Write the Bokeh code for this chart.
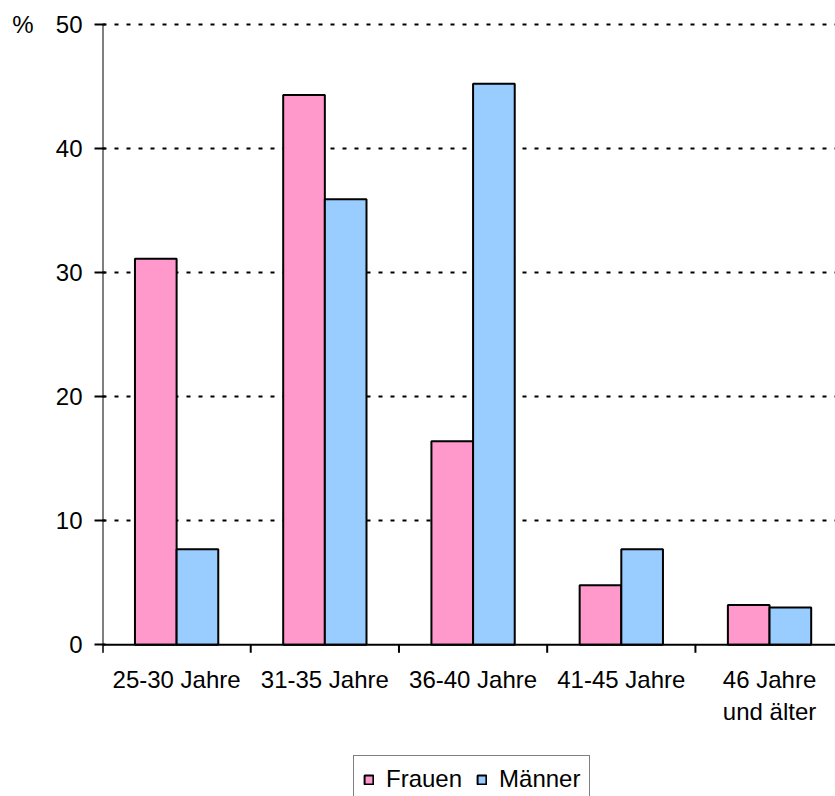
from bokeh.plotting import figure
from bokeh.models import Range1d, FixedTicker, Legend, LegendItem, LinearAxis, ColumnDataSource
from bokeh.core.properties import value
from bokeh.embed import file_html
from bokeh.resources import INLINE

# Altersgruppen und Anteile (%)
categories = ["25-30 Jahre", "31-35 Jahre", "36-40 Jahre", "41-45 Jahre", "46 Jahre\nund älter"]
frauen = [31.1, 44.3, 16.4, 4.8, 3.2]
maenner = [7.7, 35.9, 45.2, 7.7, 3.0]
y_ticks = [0, 10, 20, 30, 40, 50]

FONT = "Liberation Sans"
FS = "24px"
PINK = "#FF99CC"
BLUE = "#99CCFF"
BAR_W = 0.281
UPP = 1 / 12.41          # Dateneinheiten pro Pixel (y)
X_END = 4.945            # sichtbarer Bereich der x-Achse

n = len(categories)
centers = [i + 0.5 for i in range(n)]
bounds = list(range(n))

src = ColumnDataSource(dict(
    xf=[c - BAR_W / 2 for c in centers],
    xm=[c + BAR_W / 2 for c in centers],
    frauen=frauen,
    maenner=maenner,
))

# Zeichenfläche reicht bis zum unteren Rand, damit Achsenbeschriftung und Legende darin liegen
p = figure(
    width=835, height=796,
    x_range=Range1d(0, X_END), y_range=Range1d(-151.7 * UPP, 622.3 * UPP),
    output_backend="svg", toolbar_location=None, x_axis_location=None,
    min_border_left=102, min_border_right=0, min_border_top=22, min_border_bottom=0,
)
p.outline_line_color = None
p.background_fill_color = "white"
p.border_fill_color = "white"

# gepunktete Hilfslinien
p.xgrid.grid_line_color = None
p.ygrid.ticker = FixedTicker(ticks=y_ticks[1:])
p.ygrid.grid_line_color = "black"
p.ygrid.grid_line_width = 2.2
p.ygrid.grid_line_dash = "4 8"

rf = p.vbar(x="xf", top="frauen", width=BAR_W, source=src,
            fill_color=PINK, line_color="black", line_width=2)
rm = p.vbar(x="xm", top="maenner", width=BAR_W, source=src,
            fill_color=BLUE, line_color="black", line_width=2)

# Achsenlinien
p.segment(x0=[0, 0], y0=[-8 * UPP, 0], x1=[0, X_END], y1=[max(y_ticks), 0],
          line_color="black", line_width=2)
# Teilstriche an den Kategoriegrenzen
p.segment(x0=bounds, y0=[0] * n, x1=bounds, y1=[-8 * UPP] * n,
          line_color="black", line_width=2)
# Kategoriebeschriftung
p.text(x=centers, y=[-21 * UPP] * n, text=categories,
       text_font=value(FONT), text_font_size=FS, text_color="black",
       text_align="center", text_baseline="top", text_line_height=1.18)

ya = p.yaxis[0]
ya.ticker = FixedTicker(ticks=y_ticks)
ya.minor_tick_line_color = None
ya.axis_line_color = None
ya.major_tick_in = 3
ya.major_tick_out = 8
ya.major_tick_line_width = 2
ya.major_tick_line_color = "black"
ya.major_label_standoff = 12
ya.major_label_text_font = FONT
ya.major_label_text_font_size = FS
ya.major_label_text_color = "black"

# Einheit links neben der obersten Marke
unit_axis = LinearAxis(
    ticker=FixedTicker(ticks=[50]), major_label_overrides={50: "%"},
    axis_line_color=None, major_tick_line_color=None, minor_tick_line_color=None,
    major_tick_in=0, major_tick_out=0, major_label_standoff=19,
    major_label_text_font=FONT, major_label_text_font_size=FS, major_label_text_color="black",
)
p.add_layout(unit_axis, "left")

legend = Legend(
    items=[LegendItem(label="Frauen", renderers=[rf]), LegendItem(label="Männer", renderers=[rm])],
    orientation="horizontal",
    location=(251, -7),
    border_line_color="black", border_line_width=1.5,
    background_fill_color="white", background_fill_alpha=1,
    label_text_font=FONT, label_text_font_size=FS, label_text_color="black",
    glyph_width=11, glyph_height=11, label_standoff=12, spacing=14, padding=9,
    margin=0,
)
p.add_layout(legend, "center")

open("out.html", "w").write(file_html(p, INLINE))
